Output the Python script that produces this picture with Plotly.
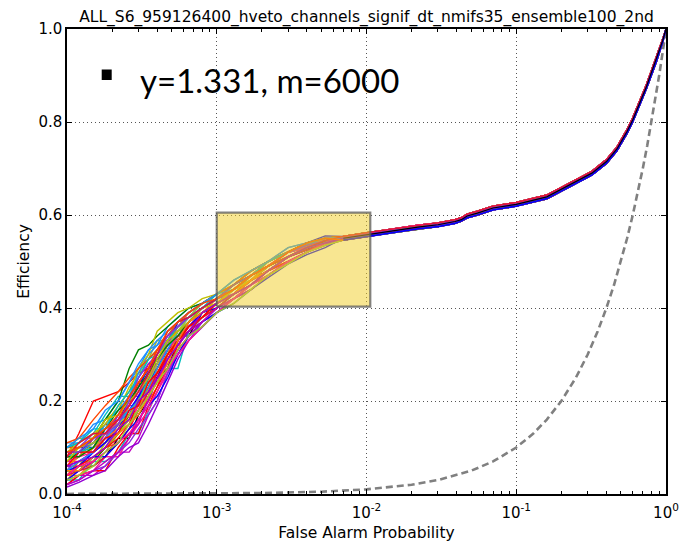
import numpy as np
import plotly.graph_objects as go

# ---- data -------------------------------------------------------------
TITLE = "ALL_S6_959126400_hveto_channels_signif_dt_nmifs35_ensemble100_2nd"

# false alarm probability grid for the low-FAP (per-member) part of the ROC curves
fap_low = [1.0e-4, 1.2e-4, 1.5e-4, 1.8e-4, 2.2e-4, 2.6e-4, 3.0e-4, 3.5e-4, 4.0e-4, 4.7e-4,
           5.5e-4, 6.5e-4, 8.0e-4, 1.0e-3, 1.3e-3, 1.7e-3, 2.2e-3, 3.0e-3, 4.0e-3, 5.3e-3]

# efficiency (%) of each ensemble member on fap_low
eff_low_pct = [
    [9, 9, 11, 13, 13, 17, 20, 25, 25, 30, 34, 34, 39, 41, 43, 46, 49, 51, 53, 54.5],
    [4, 6, 6, 8, 12, 12, 17, 20, 25, 27, 33, 35, 37, 40, 42, 45, 48, 50, 52, 54],
    [8, 13, 20, 21, 22, 24, 26, 27, 30, 33, 35, 37, 39, 41, 44, 47, 50, 52, 53.5, 55],
    [3, 3, 7, 7, 9, 13, 13, 18, 22, 27, 27, 35, 38, 40, 43, 46, 48, 51, 53, 54],
    [2, 4, 4, 6, 9, 9, 12, 17, 20, 26, 30, 34, 36, 39, 42, 45, 48, 51, 53, 55],
    [10, 12, 12, 16, 18, 23, 26, 29, 33, 33, 37, 38, 40, 42, 44, 47, 49, 52, 53, 55],
    [6, 6, 10, 13, 13, 16, 21, 21, 27, 31, 31, 37, 39, 42, 44, 46, 50, 52, 54, 55],
    [5, 9, 9, 11, 15, 19, 19, 27, 28, 32, 36, 38, 40, 42, 45, 47, 49, 51, 53, 54],
    [7, 7, 9, 11, 13, 15, 19, 21, 26, 29, 32, 36, 39, 41, 43, 46, 48, 51, 52.5, 54],
    [11, 11, 15, 16, 20, 24, 27, 31, 32, 36, 38, 40, 41, 43, 45, 48, 50, 53, 54, 55],
    [3, 6, 6, 9, 13, 15, 18, 23, 27, 30, 35, 36, 38, 40, 43, 45, 47, 50, 52, 53.5],
    [8, 8, 12, 15, 15, 19, 23, 28, 28, 33, 35, 37, 40, 42, 44, 47, 49, 52, 54, 55],
    [6, 6, 9, 12, 17, 21, 21, 25, 30, 33, 37, 39, 41, 43, 45, 48, 50, 52, 53, 54.5],
    [4, 7, 7, 10, 11, 14, 18, 20, 23, 29, 33, 36, 39, 41, 43, 46, 48, 51, 53, 54],
    [9, 10, 10, 14, 16, 20, 23, 27, 29, 32, 37, 38, 40, 42, 45, 47, 50, 52, 54, 55.5],
    [5, 5, 7, 10, 13, 17, 20, 25, 27, 31, 34, 37, 39, 41, 44, 46, 49, 51, 52.5, 54.5],
    [2, 4, 5, 5, 10, 13, 13, 19, 23, 27, 32, 35, 38, 40, 42, 44, 47, 50, 52, 54],
    [10, 11, 13, 17, 21, 21, 25, 29, 31, 34, 37, 39, 41, 43, 46, 48, 50, 52, 54, 55],
    [7, 9, 9, 13, 15, 19, 22, 26, 29, 31, 33, 37, 40, 42, 44, 46, 49, 52, 53, 54.5],
    [6, 8, 11, 11, 15, 16, 20, 23, 27, 30, 35, 37, 39, 41, 43, 47, 49, 51, 53, 54],
    [4, 4, 7, 11, 14, 19, 24, 24, 28, 32, 36, 38, 40, 42, 45, 47, 50, 52, 53.5, 55],
    [9, 10, 13, 13, 17, 21, 21, 24, 28, 33, 34, 37, 40, 42, 43, 46, 48, 51, 53, 54.5],
    [3, 4, 5, 8, 8, 12, 15, 18, 22, 26, 31, 34, 37, 40, 42, 45, 48, 50, 52, 54],
    [7, 9, 11, 15, 18, 21, 26, 30, 32, 34, 36, 38, 41, 43, 45, 48, 50, 52, 54, 55],
    [5, 7, 7, 11, 13, 16, 18, 23, 26, 30, 33, 36, 38, 41, 44, 46, 49, 51, 53, 54],
    [8, 10, 11, 14, 16, 19, 24, 27, 31, 34, 36, 38, 40, 42, 44, 47, 49, 52, 53.5, 55],
    [6, 7, 9, 11, 15, 17, 21, 26, 28, 32, 34, 36, 39, 41, 43, 46, 48, 51, 53, 54],
    [10, 10, 12, 14, 16, 21, 24, 27, 31, 33, 36, 39, 41, 43, 45, 47, 50, 52, 54, 55],
    [5, 6, 9, 11, 14, 18, 21, 24, 27, 31, 33, 36, 39, 40, 43, 46, 48, 51, 52.5, 54.5],
    [7, 9, 12, 16, 20, 27, 31, 32, 34, 36, 38, 40, 41, 43, 45, 48, 50, 52, 54, 55],
    [4, 6, 8, 10, 12, 15, 20, 23, 26, 29, 33, 36, 38, 41, 43, 45, 48, 50, 52, 54],
    [8, 9, 10, 12, 16, 18, 20, 25, 28, 31, 35, 37, 40, 42, 44, 47, 49, 51, 53, 55],
    [3, 5, 7, 9, 11, 13, 15, 21, 24, 29, 32, 35, 37, 40, 42, 44, 47, 50, 52, 53.5],
    [9, 11, 13, 15, 19, 22, 27, 30, 35, 37, 39, 40, 42, 43, 45, 48, 50, 52, 54, 55],
    [6, 8, 10, 12, 14, 17, 19, 22, 27, 30, 34, 37, 39, 41, 43, 46, 49, 51, 53, 54.5],
    [2, 3, 5, 6, 9, 11, 14, 17, 20, 26, 30, 33, 37, 39, 42, 45, 47, 50, 52, 54],
    [7, 8, 9, 12, 16, 19, 22, 25, 28, 31, 34, 37, 40, 42, 44, 46, 49, 52, 53, 55],
    [5, 7, 9, 12, 15, 18, 20, 23, 27, 31, 35, 38, 40, 42, 44, 47, 49, 51, 53, 54],
    [9, 10, 11, 13, 15, 17, 20, 24, 28, 32, 35, 38, 41, 43, 45, 47, 50, 52, 53.5, 55],
    [4, 5, 6, 8, 11, 14, 18, 22, 26, 30, 33, 35, 38, 40, 43, 45, 48, 51, 52.5, 54],
    [1.5, 2.5, 4, 5, 8, 10, 11, 15, 19, 24, 29, 33, 36, 39, 42, 44, 47, 50, 52, 53.5],
    [11, 12, 16, 19, 22, 25, 27, 29, 31, 34, 37, 39, 41, 43, 45, 48, 50, 52, 54, 55],
    [3, 5, 8, 8, 11, 14, 16, 19, 21, 25, 30, 34, 37, 39, 41, 44, 46.5, 49.5, 51.5, 53],
    [8, 8, 10, 14, 18, 20, 23, 26, 29, 32, 34, 37, 40, 42, 45, 47, 49, 51, 53, 54.5],
    [6, 9, 9, 12, 13, 18, 19, 24, 26, 30, 33, 36, 38, 41, 43, 46, 48, 51, 53, 55],
    [10, 11, 14, 14, 19, 22, 25, 29, 30, 33, 36, 38, 40, 43, 44, 47, 50, 52, 53.5, 55],
    [2, 3, 5, 7, 9, 12, 16, 20, 25, 28, 31, 34, 37, 40, 42, 45, 47, 50, 52, 54],
    [7, 10, 12, 16, 17, 20, 22, 25, 29, 33, 35, 37, 40, 41, 44, 46, 49, 51, 53, 54],
    [5, 5, 8, 10, 13, 15, 17, 21, 24, 28, 33, 37, 39, 41, 43, 46, 48, 51, 53, 55],
    [9, 9, 12, 13, 15, 20, 25, 28, 30, 34, 36, 38, 40, 42, 45, 47, 49, 52, 53.5, 54.5],
    [4, 6, 7, 9, 11, 13, 16, 19, 22, 27, 30, 33, 36, 39, 42, 45, 47, 50, 52, 54],
    [10, 12, 14, 18, 20, 24, 28, 31, 33, 35, 37, 39, 41, 43, 46, 48, 50, 53, 54, 55],
    [3, 4, 6, 9, 11, 15, 18, 21, 24, 27, 31, 34, 36, 39, 41, 44, 47, 49.5, 52, 53.5],
    [8, 11, 13, 13, 16, 19, 22, 26, 30, 35, 37, 38, 40, 42, 44, 47, 49, 51, 53, 54.5],
    [6, 7, 8, 10, 14, 16, 20, 22, 25, 29, 32, 35, 39, 41, 43, 45, 48, 51, 53, 54],
    [9, 10, 12, 14, 17, 21, 24, 27, 31, 35, 37, 39, 41, 42, 44, 47, 49, 52, 54, 55],
]

# high-FAP part, where the ensemble members nearly coincide (three close variants)
fap_tail = [7e-3, 1e-2, 1.5e-2, 2.2e-2, 3e-2, 3.9e-2, 4.3e-2, 4.7e-2, 5.5e-2, 7e-2, 1e-1,
            1.6e-1, 2.2e-1, 3.2e-1, 4e-1, 4.7e-1, 5.5e-1, 6e-1, 7.4e-1, 8.6e-1, 9.5e-1, 1.0]
eff_tail_a = [55.0, 55.8, 56.6, 57.4, 57.9, 58.6, 59.0, 59.8, 60.4, 61.5, 62.3,
              63.9, 66.2, 69.0, 71.5, 74.2, 78.0, 80.5, 87.6, 93.3, 97.5, 100]
eff_tail_b = [54.6, 55.4, 56.2, 57.0, 57.5, 58.2, 58.7, 59.4, 60.0, 61.1, 61.9,
              63.5, 65.8, 68.6, 71.1, 73.8, 77.6, 80.1, 87.2, 92.9, 97.2, 100]
eff_tail_c = [55.4, 56.2, 57.0, 57.8, 58.3, 59.0, 59.4, 60.2, 60.8, 61.9, 62.7,
              64.3, 66.6, 69.4, 71.9, 74.6, 78.4, 80.9, 88.0, 93.7, 97.8, 100]

# chance line: efficiency equal to false alarm probability
chance = [1e-4, 2e-4, 5e-4, 1e-3, 2e-3, 5e-3, 0.01, 0.02, 0.03, 0.05, 0.07, 0.1, 0.13, 0.16,
          0.2, 0.25, 0.3, 0.35, 0.4, 0.45, 0.5, 0.55, 0.6, 0.65, 0.7, 0.75, 0.8, 0.85,
          0.9, 0.95, 1.0]

# highlighted operating region
box_fap = [1.0e-3, 1.06e-2]
box_eff = [0.403, 0.605]

LABEL = "y=1.331, m=6000"

x_ticks = [1e-4, 1e-3, 1e-2, 1e-1, 1.0]
x_ticktext = ["10<sup>-4</sup>", "10<sup>-3</sup>", "10<sup>-2</sup>",
              "10<sup>-1</sup>", "10<sup>0</sup>"]
x_minor = [m * 10.0 ** e for e in range(-4, 0) for m in range(2, 10)]
y_ticks = [0.0, 0.2, 0.4, 0.6, 0.8, 1.0]
y_ticktext = ["0.0", "0.2", "0.4", "0.6", "0.8", "1.0"]

palette = ["#0000ff", "#008000", "#ff0000", "#00bfbf", "#bf00bf", "#bfbf00",
           "#ff7f0e", "#8a2be2", "#ff1493", "#1e90ff", "#9acd32", "#dc143c",
           "#9400d3", "#ff4500"]

# ---- figure -----------------------------------------------------------
fig = go.Figure()

fig.add_trace(go.Scatter(x=chance, y=chance, mode="lines",
                         line=dict(color="#808080", width=2.6, dash="7px,4px"),
                         hoverinfo="skip"))

tails = [eff_tail_a, eff_tail_b, eff_tail_c]
for i, row in enumerate(eff_low_pct):
    if i in (0, 1):
        color = "#000000"
    else:
        color = palette[i % len(palette)]
    tail = tails[i % 3]
    xs = list(fap_low) + list(fap_tail)
    ys = list(np.array(list(row) + list(tail)) / 100.0)
    fig.add_trace(go.Scatter(x=xs, y=ys, mode="lines",
                             line=dict(color=color, width=1.4), hoverinfo="skip"))

# a couple of members drawn last so the common tail shows their colour
fig.add_trace(go.Scatter(x=fap_tail, y=list(np.array(eff_tail_b) / 100.0), mode="lines",
                         line=dict(color="#0000ff", width=1.8), hoverinfo="skip"))
fig.add_trace(go.Scatter(x=fap_tail, y=list(np.array(eff_tail_a) / 100.0), mode="lines",
                         line=dict(color="#000000", width=1.2), hoverinfo="skip"))

# translucent highlight box on top of the curves
fig.add_trace(go.Scatter(
    x=[box_fap[0], box_fap[1], box_fap[1], box_fap[0], box_fap[0]],
    y=[box_eff[0], box_eff[0], box_eff[1], box_eff[1], box_eff[0]],
    mode="lines", fill="toself", fillcolor="rgba(241,205,35,0.5)",
    line=dict(color="rgba(90,90,90,0.75)", width=2.2), hoverinfo="skip"))

W, H = 679, 542
L, R, T, B = 67, 13, 29, 48
pw, ph = W - L - R, H - T - B


def px_x(p):
    return (p - L) / pw


def px_y(p):
    return (H - B - p) / ph


fig.add_shape(type="rect", xref="paper", yref="paper",
              x0=px_x(101.7), x1=px_x(111.7), y0=px_y(80), y1=px_y(69.5),
              fillcolor="#000000", line=dict(width=0))
fig.add_annotation(xref="paper", yref="paper", x=px_x(138), y=px_y(80),
                   xanchor="left", yanchor="middle", showarrow=False,
                   text=LABEL, font=dict(family="Lato", size=33, color="#000000"))

axis_common = dict(showline=True, linecolor="#000000", linewidth=1.5, mirror="allticks",
                   ticks="inside", tickcolor="#000000", ticklen=5, tickwidth=1,
                   showgrid=True, gridcolor="#555555", gridwidth=1, griddash="1px,3px",
                   zeroline=False, automargin=False,
                   tickfont=dict(family="DejaVu Sans", size=15, color="#000000"))

fig.update_xaxes(type="log", range=[-4, 0], tickvals=x_ticks, ticktext=x_ticktext,
                 ticklabelstandoff=4,
                 minor=dict(tickvals=x_minor, ticks="inside", ticklen=3,
                            tickcolor="#000000", showgrid=False),
                 title=dict(text="False Alarm Probability", standoff=9,
                            font=dict(family="DejaVu Sans", size=15.5, color="#000000")),
                 **axis_common)
fig.update_yaxes(range=[0, 1], tickvals=y_ticks, ticktext=y_ticktext,
                 title=dict(text="Efficiency", standoff=5,
                            font=dict(family="DejaVu Sans", size=15.5, color="#000000")),
                 **axis_common)

fig.update_layout(
    width=W, height=H, autosize=False,
    margin=dict(l=L, r=R, t=T, b=B),
    paper_bgcolor="#ffffff", plot_bgcolor="#ffffff",
    showlegend=False,
    title=dict(text=TITLE, x=px_x(366.5), xref="paper", xanchor="center",
               y=1 - 17 / H, yref="container", yanchor="middle",
               font=dict(family="DejaVu Sans", size=15.5, color="#000000")),
)

fig.write_html("out.html")
